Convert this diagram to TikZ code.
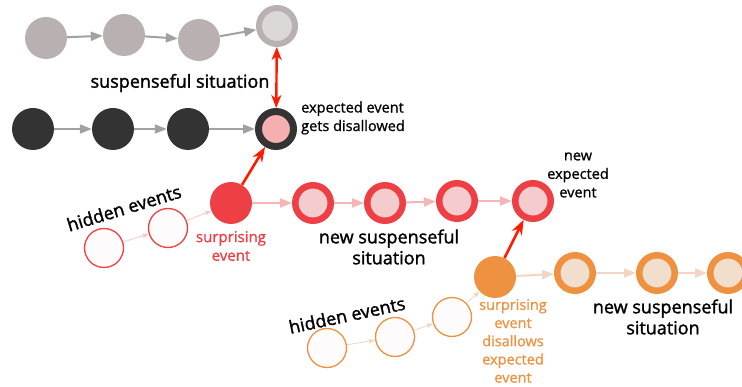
\documentclass[tikz,border=0pt]{standalone}
\usepackage{fontspec}
\setmainfont{Open Sans}
\newfontfamily\semib[FakeBold=1.6]{Open Sans}
\newfontfamily\semic[FakeBold=1.0]{Open Sans}
\usetikzlibrary{arrows.meta}
\definecolor{cgray}{HTML}{B9B1B1}
\definecolor{cgrayin}{HTML}{DDD8D8}
\definecolor{cgarrow}{HTML}{A3A0A0}
\definecolor{cblack}{HTML}{333333}
\definecolor{cpinkd}{HTML}{F5AFB1}
\definecolor{cred}{HTML}{EE4044}
\definecolor{cpink}{HTML}{F5CCCD}
\definecolor{cparrow}{HTML}{F5B5B7}
\definecolor{chid}{HTML}{F7C9CA}
\definecolor{cbright}{HTML}{FF1A00}
\definecolor{corange}{HTML}{EE9241}
\definecolor{cpeach}{HTML}{F2DECD}
\definecolor{coarrow}{HTML}{F2D6C2}
\definecolor{cnear}{HTML}{FDFBFB}
\begin{document}
\begin{tikzpicture}[x=1pt,y=-1pt,
  dot/.style={circle, inner sep=0pt, minimum size=42pt},
  ring/.style={circle, inner sep=0pt, minimum size=35.5pt, line width=6.5pt},
  hid/.style={circle, inner sep=0pt, minimum size=39pt, line width=1.3pt, fill=cnear},
  grayarr/.style={draw=cgarrow, line width=2pt, -{Triangle[length=12pt,width=9pt]}},
  pinkarr/.style={draw=cparrow, line width=2pt, -{Triangle[length=12pt,width=9pt]}},
  orarr/.style={draw=coarrow, line width=2pt, -{Triangle[length=12pt,width=9pt]}},
  hidarr/.style={line width=0.8pt, -{Triangle[length=6pt,width=4.5pt]}},
  redarr/.style={draw=cbright, line width=2.6pt, -{Stealth[length=15pt,width=11pt,inset=5pt]}},
  big/.style={font=\semib\fontsize{18}{21}\selectfont, text=black},
  small/.style={font=\semic\fontsize{14.5}{18.5}\selectfont, text=black, align=center},
  lab/.style={font=\semic\fontsize{15}{18.6}\selectfont, align=center}
]
\useasboundingbox (0,0) rectangle (742,387);
% gray row
\node[dot, fill=cgray] (g1) at (46,38) {};
\node[dot, fill=cgray] (g2) at (124,35) {};
\node[dot, fill=cgray] (g3) at (199,40) {};
\node[ring, draw=cgray, fill=cgrayin, line width=6pt, minimum size=36pt] (g4) at (277,26) {};
\draw[grayarr] (g1) -- (g2);
\draw[grayarr] (g2) -- (g3);
\draw[grayarr] (g3) -- (g4);
% black row
\node[dot, fill=cblack] (b1) at (33,129) {};
\node[dot, fill=cblack] (b2) at (113,129) {};
\node[dot, fill=cblack] (b3) at (188,129) {};
\node[ring, draw=cblack, fill=cpinkd, line width=7pt, minimum size=35pt] (b4) at (276,129) {};
\draw[grayarr] (b1) -- (b2);
\draw[grayarr] (b2) -- (b3);
\draw[grayarr] (b3) -- (b4);
\draw[draw=cbright, line width=2.4pt, {Stealth[length=13pt,width=10pt,inset=4pt]}-{Stealth[length=13pt,width=10pt,inset=4pt]}] (g4) -- (b4);
\node[big] (t1) at (180,83) {suspenseful situation};
\node[small, align=left] (t2) at (353,118) {expected event\\gets disallowed};
% red row
\node[hid, draw=cred] (h1) at (104,248) {};
\node[hid, draw=cred] (h2) at (168,228) {};
\node[dot, fill=cred] (s1) at (231,203) {};
\node[ring, draw=cred, fill=cpink] (r1) at (313,203) {};
\node[ring, draw=cred, fill=cpink] (r2) at (385,203) {};
\node[ring, draw=cred, fill=cpink] (r3) at (457,201) {};
\node[ring, draw=cred, fill=cpink] (r4) at (533,201) {};
\draw[hidarr, draw=chid] (h1) -- (h2);
\draw[hidarr, draw=chid] (h2) -- (s1);
\draw[pinkarr] (s1) -- (r1);
\draw[pinkarr] (r1) -- (r2);
\draw[pinkarr] (r2) -- (r3);
\draw[pinkarr] (r3) -- (r4);
\draw[redarr] (s1) -- (b4);
\node[big, rotate=17] (t3) at (124,208) {hidden events};
\node[lab, text=cred] (t4) at (231,246) {surprising\\event};
\node[big, align=center] (t5) at (389,247) {new suspenseful\\situation};
\node[small] (t6) at (578,175) {new\\expected\\event};
% orange row
\node[hid, draw=corange] (o1) at (327,348) {};
\node[hid, draw=corange] (o2) at (395,337) {};
\node[hid, draw=corange] (o3) at (452,317) {};
\node[dot, fill=corange] (s2) at (495,277) {};
\node[ring, draw=corange, fill=cpeach] (q1) at (575,273) {};
\node[ring, draw=corange, fill=cpeach] (q2) at (657,273) {};
\node[ring, draw=corange, fill=cpeach] (q3) at (728,273) {};
\draw[hidarr, draw=coarrow] (o1) -- (o2);
\draw[hidarr, draw=coarrow] (o2) -- (o3);
\draw[hidarr, draw=coarrow] (o3) -- (s2);
\draw[orarr] (s2) -- (q1);
\draw[orarr] (q1) -- (q2);
\draw[orarr] (q2) -- (q3);
\draw[redarr] (s2) -- (r4);
\node[big, rotate=12] (t7) at (347,315) {hidden events};
\node[lab, text=corange, font=\semic\fontsize{14.5}{18.2}\selectfont] (t8) at (513,341) {surprising\\event\\disallows\\expected\\event};
\node[big, align=center] (t9) at (663,317) {new suspenseful\\situation};
\end{tikzpicture}
\end{document}
